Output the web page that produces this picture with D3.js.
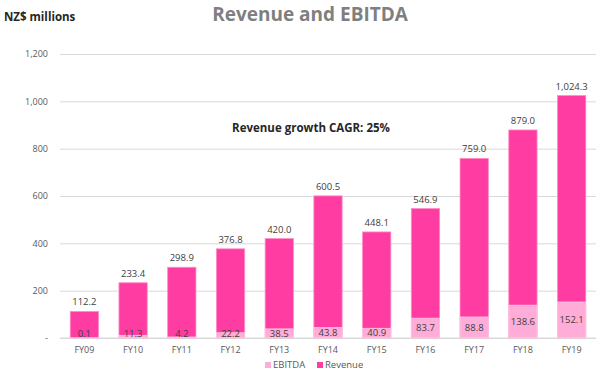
<!DOCTYPE html>
<html>
<head>
<meta charset="utf-8">
<script src="https://cdn.jsdelivr.net/npm/d3@7"></script>
<style>
  body { margin: 0; background: #fff; }
  text { font-family: "Open Sans", sans-serif; }
</style>
</head>
<body>
<div id="chart"></div>
<script>
// chart data
const years = ["FY09", "FY10", "FY11", "FY12", "FY13", "FY14", "FY15", "FY16", "FY17", "FY18", "FY19"];
const revenue = [112.2, 233.4, 298.9, 376.8, 420.0, 600.5, 448.1, 546.9, 759.0, 879.0, 1024.3];
const ebitda = [0.1, 11.3, 4.2, 22.2, 38.5, 43.8, 40.9, 83.7, 88.8, 138.6, 152.1];
const yTicks = [0, 200, 400, 600, 800, 1000, 1200];

const width = 602, height = 376;
const margin = {top: 54, right: 6, bottom: 38, left: 60};

const svg = d3.select("#chart").append("svg")
    .attr("width", width)
    .attr("height", height);

const x = d3.scaleBand()
    .domain(years)
    .range([margin.left, width - margin.right])
    .paddingInner(0.42)
    .paddingOuter(0.21);

const y = d3.scaleLinear()
    .domain([0, 1200])
    .range([height - margin.bottom, margin.top]);

// gridlines + y labels
const yAxis = d3.axisLeft(y)
    .tickValues(yTicks)
    .tickSize(-(width - margin.right - margin.left))
    .tickPadding(12)
    .tickFormat(d => d === 0 ? "-" : d3.format(",")(d));

svg.append("g")
    .attr("transform", "translate(" + margin.left + ",0)")
    .call(yAxis)
    .call(g => g.select(".domain").remove())
    .call(g => g.selectAll(".tick line").attr("stroke", "#d9d9d9").attr("stroke-width", 1))
    .call(g => g.selectAll(".tick text").attr("fill", "#595959").style("font-size", "9px"));

// x labels
svg.append("g")
    .attr("transform", "translate(0," + y(0) + ")")
    .call(d3.axisBottom(x).tickSize(0).tickPadding(9))
    .call(g => g.select(".domain").remove())
    .call(g => g.selectAll(".tick text").attr("fill", "#595959").style("font-size", "9px"));

// revenue bars
svg.selectAll(".rev").data(years).enter().append("rect")
    .attr("class", "rev")
    .attr("x", d => x(d))
    .attr("width", x.bandwidth())
    .attr("y", (d, i) => y(revenue[i]))
    .attr("height", (d, i) => y(0) - y(revenue[i]))
    .attr("fill", "#ff3ca2")
    .attr("stroke", "#ff8cc6")
    .attr("stroke-width", 0.8);

// ebitda bars
svg.selectAll(".ebit").data(years).enter().append("rect")
    .attr("class", "ebit")
    .attr("x", d => x(d))
    .attr("width", x.bandwidth())
    .attr("y", (d, i) => y(ebitda[i]))
    .attr("height", (d, i) => y(0) - y(ebitda[i]))
    .attr("fill", "#ffadd8")
    .attr("stroke", "#ffc8e4")
    .attr("stroke-width", 0.8);

// baseline
svg.append("line")
    .attr("x1", margin.left).attr("x2", width - margin.right)
    .attr("y1", y(0)).attr("y2", y(0))
    .attr("stroke", "#d9d9d9");

// revenue labels
svg.selectAll(".revlab").data(years).enter().append("text")
    .attr("x", d => x(d) + x.bandwidth() / 2)
    .attr("y", (d, i) => y(revenue[i]) - 6)
    .attr("text-anchor", "middle")
    .attr("fill", "#404040")
    .style("font-size", "9.5px")
    .text((d, i) => d3.format(",.1f")(revenue[i]));

// ebitda labels
svg.selectAll(".eblab").data(years).enter().append("text")
    .attr("x", d => x(d) + x.bandwidth() / 2)
    .attr("y", (d, i) => Math.min((y(ebitda[i]) + y(0)) / 2, 334))
    .attr("dy", "0.35em")
    .attr("text-anchor", "middle")
    .attr("fill", "#404040")
    .style("font-size", "9.5px")
    .text((d, i) => d3.format(",.1f")(ebitda[i]));

// titles
svg.append("text")
    .attr("x", 310).attr("y", 21)
    .attr("text-anchor", "middle")
    .attr("fill", "#7f7f7f")
    .style("font-size", "19px")
    .style("font-weight", "bold")
    .text("Revenue and EBITDA");

svg.append("text")
    .attr("x", 4).attr("y", 21)
    .attr("fill", "#262626")
    .style("font-size", "11.5px")
    .style("font-weight", "bold")
    .text("NZ$ millions");

svg.append("text")
    .attr("x", 311).attr("y", 132)
    .attr("text-anchor", "middle")
    .attr("fill", "#262626")
    .style("font-size", "11.5px")
    .style("font-weight", "bold")
    .text("Revenue growth CAGR: 25%");

// legend
const legend = [{name: "EBITDA", color: "#ffadd8", x: 265}, {name: "Revenue", color: "#ff3ca2", x: 317}];
const lg = svg.selectAll(".legend").data(legend).enter().append("g")
    .attr("transform", d => "translate(" + d.x + ",362)");
lg.append("rect").attr("width", 6).attr("height", 6).attr("fill", d => d.color);
lg.append("text")
    .attr("x", 8).attr("y", 6)
    .attr("fill", "#595959")
    .style("font-size", "9.5px")
    .text(d => d.name);
</script>
</body>
</html>
